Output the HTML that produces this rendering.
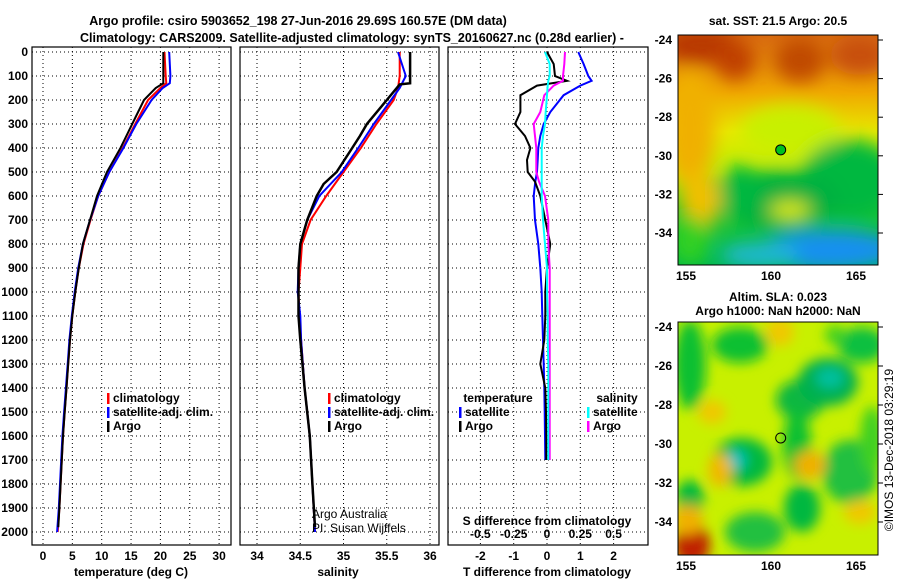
<!DOCTYPE html>
<html><head><meta charset="utf-8">
<style>
html,body{margin:0;padding:0;background:#fff;}
svg{display:block;font-family:"Liberation Sans",Arial,sans-serif;}
.t{font-size:12px;font-weight:bold;fill:#000;}
.tl{font-size:12.5px;font-weight:bold;fill:#000;}
</style></head>
<body>
<svg id="s" width="900" height="580" viewBox="0 0 900 580" xmlns="http://www.w3.org/2000/svg">
<defs>
<filter id="bl" x="-50%" y="-50%" width="200%" height="200%"><feGaussianBlur stdDeviation="9"/></filter>
<filter id="bl2" x="-50%" y="-50%" width="200%" height="200%"><feGaussianBlur stdDeviation="6"/></filter>
<clipPath id="c1"><rect x="678" y="35" width="200" height="230"/></clipPath>
<clipPath id="c2"><rect x="678" y="322" width="200" height="233"/></clipPath>
<linearGradient id="g1" x1="0" y1="0" x2="0" y2="1">
<stop offset="0" stop-color="#d86a10"/><stop offset="0.25" stop-color="#f0a800"/><stop offset="0.42" stop-color="#e8e800"/><stop offset="0.6" stop-color="#b8f000"/><stop offset="0.75" stop-color="#20c830"/><stop offset="1" stop-color="#00b848"/>
</linearGradient>
</defs>
<text class="tl" x="298" y="25" text-anchor="middle">Argo profile: csiro 5903652_198 27-Jun-2016 29.69S 160.57E (DM data)</text>
<text class="tl" x="352" y="42" text-anchor="middle">Climatology: CARS2009. Satellite-adjusted climatology: synTS_20160627.nc (0.28d earlier) -</text>
<g id="maps"></g>
<g id="plots"></g>
</svg>
<script>
const NS="http://www.w3.org/2000/svg";
const svg=document.getElementById('s');
const plots=document.getElementById('plots');
const maps=document.getElementById('maps');
function el(tag,attrs,parent,txt){const e=document.createElementNS(NS,tag);for(const k in attrs)e.setAttribute(k,attrs[k]);if(txt!==undefined)e.textContent=txt;(parent||plots).appendChild(e);return e;}

// ---- data ----
const depthTicks=[0,100,200,300,400,500,600,700,800,900,1000,1100,1200,1300,1400,1500,1600,1700,1800,1900,2000];
const tempTicks=[0,5,10,15,20,25,30];
const salTicks=[34,34.5,35,35.5,36];
const salTickLabels=["34","34.5","35","35.5","36"];
const tdiffTicks=[-2,-1,0,1,2];
const sdiffTicks=[-0.5,-0.25,0,0.25,0.5];
const sdiffTickLabels=["-0.5","-0.25","0","0.25","0.5"];

const tArgoDepth=[0,100,130,150,200,300,400,500,600,700,800,900,1000,1100,1200,1300,1400,1500,1600,1700,1800,1900,1980];
const tArgo=[20.5,20.5,20.5,19.2,17.2,15.2,13.2,10.9,9.2,8.0,6.8,6.1,5.5,5.0,4.6,4.3,4.0,3.7,3.4,3.2,3.0,2.8,2.6];
const tClimDepth=[0,100,130,150,200,300,400,500,600,700,800,900,1000,1100,1200,1300,1400,1500,1600,1700,1800,1900,2000];
const tClim=[20.7,20.9,21.0,20.0,17.9,15.7,13.6,11.3,9.4,8.1,6.9,6.1,5.5,5.0,4.6,4.3,4.0,3.7,3.4,3.2,3.0,2.8,2.5];
const tSat=[21.5,21.7,21.6,20.4,18.5,15.9,13.7,11.3,9.4,8.0,6.8,6.0,5.4,4.9,4.5,4.2,3.9,3.6,3.3,3.1,2.9,2.7,2.4];

const sArgoDepth=[0,130,135,200,300,350,400,500,550,600,700,800,900,1000,1100,1200,1400,1600,1800,1980];
const sArgo=[35.77,35.77,35.65,35.5,35.27,35.19,35.1,34.92,34.77,34.69,34.58,34.5,34.48,34.48,34.48,34.5,34.55,34.61,34.64,34.67];
const sClimDepth=[0,100,150,200,300,400,500,600,700,800,900,1000,1100,1200,1400,1600,1800,2000];
const sClim=[35.65,35.65,35.63,35.58,35.38,35.2,35.0,34.8,34.62,34.52,34.5,34.48,34.49,34.51,34.55,34.61,34.64,34.67];
const sSat=[35.63,35.72,35.65,35.55,35.35,35.17,34.98,34.72,34.58,34.5,34.48,34.47,34.5,34.51,34.55,34.61,34.64,34.67];

const dDepth=[0,50,100,120,140,180,250,300,350,400,450,500,540,600,700,800,900,1000,1100,1200,1300,1400,1500,1600,1700];
const dTSat=[0.94,1.1,1.24,1.34,1.0,0.5,0.1,-0.1,-0.2,-0.26,-0.28,-0.3,-0.35,-0.4,-0.36,-0.26,-0.2,-0.16,-0.14,-0.12,-0.1,-0.08,-0.07,-0.06,-0.05];
const dTArgo=[0.0,0.2,0.24,0.6,-0.3,-0.8,-0.8,-0.96,-0.66,-0.5,-0.6,-0.58,-0.36,-0.2,-0.05,0.1,0.0,-0.05,-0.05,-0.08,-0.2,-0.05,-0.03,-0.02,-0.02];
const dSArgo=[0.135,0.13,0.12,0.12,0.05,-0.02,-0.05,-0.1,-0.09,-0.08,-0.08,-0.08,-0.06,-0.015,0.01,0.01,0.02,0.02,0.02,0.02,0.02,0.02,0.02,0.02,0.02];
const dSSat=[-0.015,0.02,0.02,0.01,0.005,0.0,-0.01,-0.015,-0.03,-0.04,-0.04,-0.04,-0.04,-0.04,-0.03,-0.015,0.0,0.0,0.005,0.005,0.01,0.01,0.01,0.01,0.01];

// ---- axes ----
const Y0=52, PY=0.24, TOP=47, BOT=545;
const yD=d=>Y0+d*PY;
const xT=t=>43+t*5.87;
const xS=s=>257+(s-34)*86.5;
const xDT=v=>547+v*33.3;
const xDS=v=>547+v*133.2;

const panels=[{x0:32,x1:231,name:'temperature-panel'},{x0:240,x1:439,name:'salinity-panel'},{x0:448,x1:648,name:'difference-panel'}];
const dots={stroke:'#000','stroke-width':1,'stroke-dasharray':'1,3'};

function grid(p,xs){
  depthTicks.forEach(d=>{const l=el('line',Object.assign({x1:p.x0,x2:p.x1,y1:yD(d),y2:yD(d)},dots));
  
  });
  xs.forEach(x=>{const l=el('line',Object.assign({x1:x,x2:x,y1:TOP,y2:BOT},dots));
  
  });
}
grid(panels[0],tempTicks.map(xT));
grid(panels[1],salTicks.map(xS));
grid(panels[2],tdiffTicks.map(xDT));

depthTicks.forEach(d=>{const t=el('text',{class:'t',x:28,y:yD(d)+4,'text-anchor':'end'},plots,String(d));

});
tempTicks.forEach(v=>{const t=el('text',{class:'t',x:xT(v),y:560,'text-anchor':'middle'},plots,String(v));

});
salTicks.forEach((v,i)=>{const t=el('text',{class:'t',x:xS(v),y:560,'text-anchor':'middle'},plots,salTickLabels[i]);

});
tdiffTicks.forEach(v=>{const t=el('text',{class:'t',x:xDT(v),y:560,'text-anchor':'middle'},plots,String(v));

});
sdiffTicks.forEach((v,i)=>{const t=el('text',{class:'t',x:xDS(v),y:538,'text-anchor':'middle'},plots,sdiffTickLabels[i]);

});

function lab(x,y,s,name){const t=el('text',{class:'t',x:x,y:y,'text-anchor':'middle'},plots,s);

}
lab(131,576,'temperature (deg C)','temperature-axis-title');
lab(338,576,'salinity','salinity-axis-title');
lab(547,576,'T difference from climatology','t-diff-axis-title');
lab(547,525,'S difference from climatology','s-diff-axis-title');

function series(xs,ds,xf,color,w,name){
  const pts=xs.map((v,i)=>xf(v).toFixed(1)+','+yD(ds[i]).toFixed(1)).join(' ');
  const p=el('polyline',{points:pts,fill:'none',stroke:color,'stroke-width':w});
  
  
}
series(tClim,tClimDepth,xT,'#f00',2,'temperature-climatology-line');
series(tSat,tClimDepth,xT,'#00f',2,'temperature-satellite-line');
series(tArgo,tArgoDepth,xT,'#000',2,'temperature-argo-line');
series(sClim,sClimDepth,xS,'#f00',2,'salinity-climatology-line');
series(sSat,sClimDepth,xS,'#00f',2,'salinity-satellite-line');
series(sArgo,sArgoDepth,xS,'#000',2.5,'salinity-argo-line');
series(dTSat,dDepth,xDT,'#00f',2,'t-diff-satellite-line');
series(dTArgo,dDepth,xDT,'#000',2,'t-diff-argo-line');
series(dSArgo,dDepth,xDS,'#f0f',2,'s-diff-argo-line');
series(dSSat,dDepth,xDS,'#0ff',2,'s-diff-satellite-line');

panels.forEach(p=>{const r=el('rect',{x:p.x0,y:TOP,width:p.x1-p.x0,height:BOT-TOP,fill:'none',stroke:'#000','stroke-width':1.2});

});

function legend(x,y,items,name){
  items.forEach((it,i)=>{
    const r=el('rect',{x:x,y:y+i*14-9,width:2.5,height:11,fill:it[1]});
    
    
    const t=el('text',{class:'t',x:x+6,y:y+i*14},plots,it[0]);
    
    
  });
}
legend(107,402,[['climatology','#f00'],['satellite-adj. clim.','#00f'],['Argo','#000']],'temperature-legend');
legend(328,402,[['climatology','#f00'],['satellite-adj. clim.','#00f'],['Argo','#000']],'salinity-legend');
lab(498,402,'temperature','diff-legend-temp-header');
legend(459,416,[['satellite','#00f'],['Argo','#000']],'diff-legend-temperature');
lab(617,402,'salinity','diff-legend-sal-header');
legend(587,416,[['satellite','#0ff'],['Argo','#f0f']],'diff-legend-salinity');
let a=el('text',{x:312,y:518,'font-size':12,fill:'#000'},plots,'Argo Australia');

a=el('text',{x:312,y:532,'font-size':12,fill:'#000'},plots,'PI: Susan Wijffels');


// ---- maps ----
const lonTicks=[155,160,165];
const latTicks=[-24,-26,-28,-30,-32,-34];
const argoLon=160.57, argoLat=-29.69;
const mLon=l=>686+(l-155)*17;
const mLat1=l=>40+(-24-l)*19.3;
const mLat2=l=>327+(-24-l)*19.5;

const g1=el('g',{'clip-path':'url(#c1)'},maps);

el('rect',{x:678,y:35,width:200,height:230,fill:'url(#g1)'},g1);
const gb=el('g',{filter:'url(#bl)'},g1);
[[700,45,40,18,'#b83800'],[735,60,20,20,'#c04000'],[800,60,25,22,'#c04800'],[860,55,30,20,'#c85010'],[690,130,25,60,'#f0b000'],[700,200,20,30,'#f0c000'],
[790,130,50,25,'#c8f000'],[850,180,50,40,'#00b840'],[780,200,60,30,'#00b040'],[830,250,70,20,'#1890f0'],[760,255,40,12,'#20b8d8'],[690,240,18,25,'#30d020'],[740,190,20,25,'#00b840'],[790,210,20,8,'#e8f000']].forEach(b=>{
 el('ellipse',{cx:b[0],cy:b[1],rx:b[2],ry:b[3],fill:b[4]},gb);});
el('circle',{cx:mLon(argoLon),cy:mLat1(argoLat),r:5,fill:'#00c020',stroke:'#000','stroke-width':1},g1);

const g2=el('g',{'clip-path':'url(#c2)'},maps);

el('rect',{x:678,y:322,width:200,height:233,fill:'#c8f000'},g2);
const gc=el('g',{filter:'url(#bl2)'},g2);
[[690,365,16,45,'#10c030'],[740,345,28,18,'#10c030'],[862,345,24,18,'#10c040'],[800,400,24,20,'#10b840'],[828,382,30,24,'#00b050'],[830,378,14,10,'#00c0a0'],[797,445,14,34,'#10c030'],
[742,462,30,24,'#00b840'],[736,460,10,10,'#00c0c0'],[690,498,14,18,'#00b840'],[802,508,18,24,'#00b840'],[755,532,30,20,'#20c040'],[850,472,28,32,'#20c040'],[872,440,12,34,'#40d020'],
[692,545,18,22,'#c02000'],[688,520,15,15,'#f0b000'],[810,465,16,14,'#f0b000'],[860,512,16,12,'#f0c800'],[720,470,12,17,'#f0b800'],[780,332,14,14,'#f0c800'],[712,412,14,12,'#f0c800'],[835,335,10,10,'#40d020']].forEach(b=>{
 el('ellipse',{cx:b[0],cy:b[1],rx:b[2],ry:b[3],fill:b[4]},gc);});
el('circle',{cx:mLon(argoLon),cy:mLat2(argoLat),r:5,fill:'none',stroke:'#000','stroke-width':1},g2);

function mapAxes(y0,y1,fy,name){
  const r=el('rect',{x:678,y:y0,width:200,height:y1-y0,fill:'none',stroke:'#000','stroke-width':1},maps);
  
  latTicks.forEach(v=>{const t=el('text',{class:'t',x:672,y:fy(v)+4,'text-anchor':'end'},maps,String(v));
  
  el('line',{x1:878,x2:883,y1:fy(v),y2:fy(v),stroke:'#000'},maps);});
  lonTicks.forEach(v=>{const t=el('text',{class:'t',x:mLon(v),y:y1+15,'text-anchor':'middle'},maps,String(v));
  });
}
mapAxes(35,265,mLat1,'sst-map');
mapAxes(322,555,mLat2,'sla-map');
function mt(x,y,s,name){const t=el('text',{class:'t',x:x,y:y,'text-anchor':'middle'},maps,s);
}
mt(778,25,'sat. SST: 21.5 Argo: 20.5','sst-map-title');
mt(778,301,'Altim. SLA: 0.023','sla-map-title-1');
mt(778,315,'Argo h1000: NaN h2000: NaN','sla-map-title-2');
const st=el('text',{x:893,y:450,'font-size':12,fill:'#000','text-anchor':'middle',transform:'rotate(-90 893 450)'},maps,'©IMOS 13-Dec-2018 03:29:19');

</script>
</body></html>
